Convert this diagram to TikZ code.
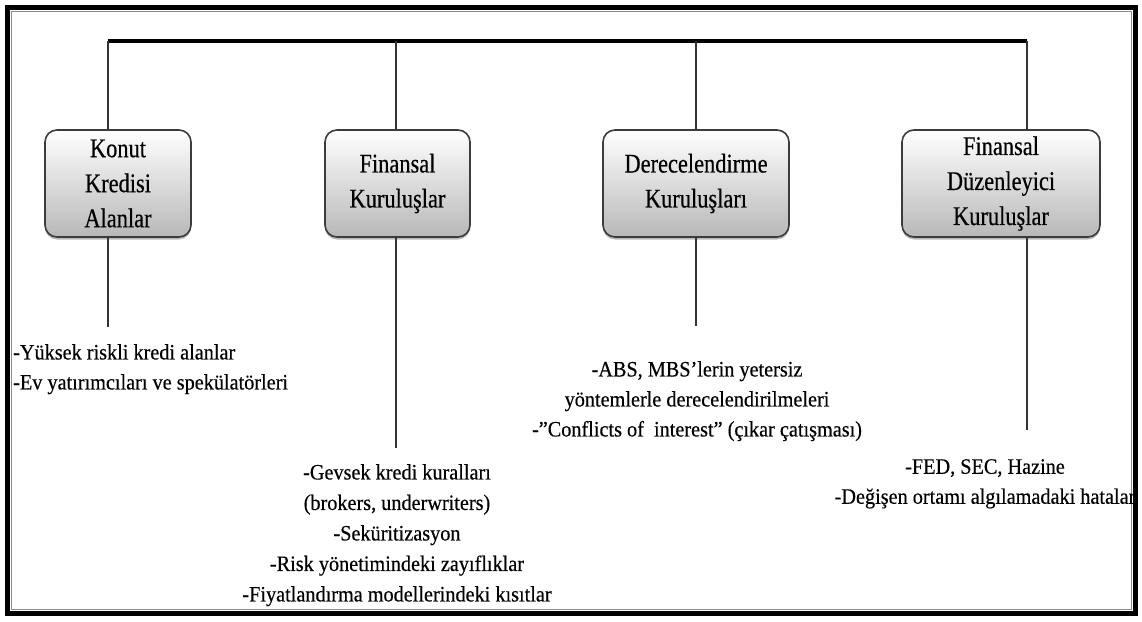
\documentclass[tikz,border=0pt]{standalone}
\usepackage{fontspec}
\setmainfont{Liberation Serif}[FakeStretch=0.92, FakeBold=0.4]
\newfontfamily\kutufont{Liberation Serif}[FakeStretch=0.83, FakeBold=0.4]
\usetikzlibrary{shadows}
\definecolor{kenar}{RGB}{60,60,60}
\tikzset{
	kutu/.style={draw=kenar, line width=1.6pt, rounded corners=12pt, top color=white, bottom color=black!28,
		drop shadow={shadow xshift=0pt, shadow yshift=-2.5pt, opacity=0.55},
		minimum height=107pt, inner sep=0pt, align=center, font=\kutufont\fontsize{27}{35}\selectfont},
	aciklama/.style={inner sep=0pt, font=\fontsize{22}{30}\selectfont},
	dal/.style={line width=1.8pt, color=black!80},
}

\begin{document}
\begin{tikzpicture}[x=1pt, y=-1pt]
		%%%%% START %%%%%
		
		\useasboundingbox (0,0) rectangle (1142,621);
		\draw[line width=5pt] (7,7) rectangle (1135,613);
		\draw[line width=0.6pt, color=black!45] (11,11) rectangle (1131,609);
		
		\coordinate (b1) at (108,41);
		\coordinate (b2) at (396,41);
		\coordinate (b3) at (696,41);
		\coordinate (b4) at (1027,41);
		\draw[line width=3.5pt] (b1) -- (b4);
		
		\node[kutu, minimum width=146pt] (k1) at (118,183.5) {Konut\\Kredisi\\Alanlar};
		\node[kutu, minimum width=145pt] (k2) at (397.5,183.5) {Finansal\\Kuruluşlar};
		\node[kutu, minimum width=186pt] (k3) at (696,183.5) {Derecelendirme\\Kuruluşları};
		\node[kutu, minimum width=198pt] (k4) at (1001,183.5) {Finansal\\Düzenleyici\\Kuruluşlar};
		
		\coordinate (a1) at (108,327);
		\coordinate (a2) at (396,448);
		\coordinate (a3) at (696,326);
		\coordinate (a4) at (1027,430);
		
		\draw[dal] (b1) -- (b1 |- k1.north);
		\draw[dal] (b2) -- (b2 |- k2.north);
		\draw[dal] (b3) -- (b3 |- k3.north);
		\draw[dal] (b4) -- (b4 |- k4.north);
		
		\draw[dal] (b1 |- k1.south) -- (a1);
		\draw[dal] (b2 |- k2.south) -- (a2);
		\draw[dal] (b3 |- k3.south) -- (a3);
		\draw[dal] (b4 |- k4.south) -- (a4);
		
		\node[aciklama, anchor=north west, align=left] (t1) at (13,344) {-Yüksek riskli kredi alanlar\\-Ev yatırımcıları ve spekülatörleri};
		\node[aciklama, anchor=north, align=center, font=\fontsize{22}{30.5}\selectfont] (t2) at (397,464) {-Gevsek kredi kuralları\\(brokers, underwriters)\\-Seküritizasyon\\-Risk yönetimindeki zayıflıklar\\-Fiyatlandırma modellerindeki kısıtlar};
		\node[aciklama, anchor=north, align=center] (t3) at (697,361) {-ABS, MBS’lerin yetersiz\\yöntemlerle derecelendirilmeleri\\-”Conflicts of\ \ interest” (çıkar çatışması)};
		\node[aciklama, anchor=north, align=center] (t4) at (985,459) {-FED, SEC, Hazine\\-Değişen ortamı algılamadaki hatalar};
		
		%%%%% END %%%%%
	\end{tikzpicture}
\end{document}
